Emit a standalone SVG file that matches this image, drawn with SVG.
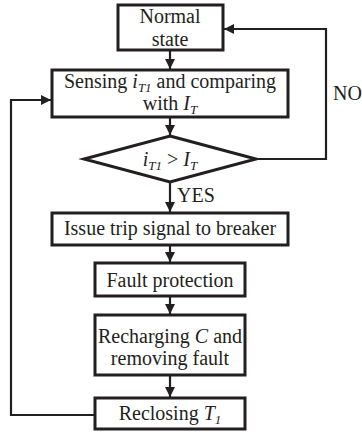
<svg xmlns="http://www.w3.org/2000/svg" width="362" height="434" viewBox="0 0 362 434">
  <defs>
    <marker id="arrow" viewBox="0 0 10 10" refX="10" refY="5" markerWidth="10" markerHeight="10" markerUnits="userSpaceOnUse" orient="auto">
      <path d="M0,0 L10,5 L0,10 Z" fill="#231f20"/>
    </marker>
    <style>
      .box { fill: #ffffff; stroke: #231f20; stroke-width: 3; }
      .line { fill: none; stroke: #231f20; stroke-width: 2.2; }
      text { font-family: 'Liberation Serif', 'DejaVu Serif', serif; font-size: 20px; fill: #231f20; }
      .lbl { text-anchor: middle; }
      .it { font-style: italic; }
      .sub { font-style: italic; font-size: 13px; }
    </style>
  </defs>
  <rect width="362" height="434" fill="#ffffff"/>

  <!-- connectors -->
  <g id="connectors">
    <line class="line" x1="170" y1="50" x2="170" y2="69" marker-end="url(#arrow)"/>
    <line class="line" x1="170" y1="117" x2="170" y2="135" marker-end="url(#arrow)"/>
    <line class="line" x1="170" y1="182" x2="170" y2="212" marker-end="url(#arrow)"/>
    <line class="line" x1="170" y1="245" x2="170" y2="262" marker-end="url(#arrow)"/>
    <line class="line" x1="170" y1="296" x2="170" y2="314" marker-end="url(#arrow)"/>
    <line class="line" x1="170" y1="375" x2="170" y2="397" marker-end="url(#arrow)"/>
    <!-- NO branch back to normal state -->
    <polyline class="line" points="256,159 326,159 326,29 224,29" marker-end="url(#arrow)"/>
    <!-- reclose loop back to sensing -->
    <polyline class="line" points="95,415 11,415 11,100 51,100" marker-end="url(#arrow)"/>
    <text x="333" y="100">NO</text>
    <text x="177" y="202">YES</text>
  </g>

  <g id="normal">
    <rect class="box" x="118" y="5" width="105" height="45"/>
    <text class="lbl" x="170" y="23">Normal</text>
    <text class="lbl" x="170" y="46">state</text>
  </g>

  <g id="sensing">
    <rect class="box" x="52" y="70" width="236" height="47"/>
    <text class="lbl" x="170" y="88">Sensing <tspan class="it">i</tspan><tspan class="sub" dy="4">T1</tspan><tspan dy="-4"> and comparing</tspan></text>
    <text class="lbl" x="170" y="110">with <tspan class="it">I</tspan><tspan class="sub" dy="4">T</tspan></text>
  </g>

  <g id="decision">
    <polygon class="box" points="170,136 256,159 170,182 84,159"/>
    <text class="lbl" x="170" y="166"><tspan class="it">i</tspan><tspan class="sub" dy="4">T1</tspan><tspan dy="-4"> &gt; </tspan><tspan class="it">I</tspan><tspan class="sub" dy="4">T</tspan></text>
  </g>

  <g id="trip">
    <rect class="box" x="52" y="213" width="236" height="32"/>
    <text class="lbl" x="170" y="235">Issue trip signal to breaker</text>
  </g>

  <g id="protection">
    <rect class="box" x="95" y="263" width="150" height="33"/>
    <text class="lbl" x="170" y="287">Fault protection</text>
  </g>

  <g id="recharge">
    <rect class="box" x="95" y="315" width="150" height="60"/>
    <text class="lbl" x="170" y="343">Recharging <tspan class="it">C</tspan> and</text>
    <text class="lbl" x="170" y="365">removing fault</text>
  </g>

  <g id="reclose">
    <rect class="box" x="95" y="398" width="150" height="31"/>
    <text class="lbl" x="170" y="420">Reclosing <tspan class="it">T</tspan><tspan class="sub" dy="4">1</tspan></text>
  </g>
</svg>
